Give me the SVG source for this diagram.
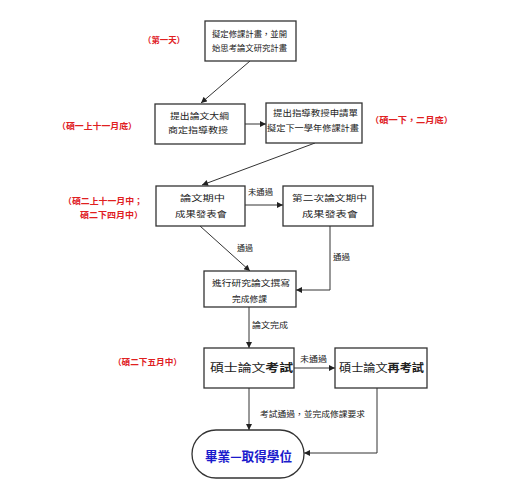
<svg xmlns="http://www.w3.org/2000/svg" width="517" height="500" viewBox="0 0 517 500">
<defs>
<marker id="arr" viewBox="0 0 10 10" refX="10" refY="5" markerWidth="7" markerHeight="6" markerUnits="userSpaceOnUse" orient="auto">
<path d="M0,0 L10,5 L0,10 z" fill="#222"/>
</marker>
<style>
.box{fill:#fff;stroke:#333;stroke-width:1.3}
.t{font-family:"Noto Sans CJK TC","Noto Sans CJK SC",sans-serif;font-size:8.5px;fill:#222}
.big{font-size:11.5px}
.lbl{font-family:"Noto Sans CJK TC","Noto Sans CJK SC",sans-serif;font-size:7.5px;fill:#222}
.red{font-family:"Noto Sans CJK TC","Noto Sans CJK SC",sans-serif;font-size:8.5px;fill:#e0201f;font-weight:bold}
.c{fill:none;stroke:#333;stroke-width:1;marker-end:url(#arr)}
</style>
</defs>
<rect width="517" height="500" fill="#fff"/>

<g id="connectors">
<line class="c" x1="250" y1="61" x2="201" y2="103"/>
<line class="c" x1="245" y1="124" x2="266" y2="124"/>
<line class="c" x1="315" y1="143" x2="202" y2="185"/>
<line class="c" x1="245" y1="205" x2="283" y2="205"/>
<line class="c" x1="200" y1="226" x2="250" y2="271"/>
<polyline class="c" points="330,226 330,290 296,290"/>
<line class="c" x1="249" y1="307" x2="249" y2="348"/>
<line class="c" x1="294" y1="368" x2="335" y2="368"/>
<line class="c" x1="249" y1="388" x2="249" y2="430"/>
<polyline class="c" points="377,388 377,453 304,453"/>
<text class="lbl" x="248" y="195" textLength="25" lengthAdjust="spacingAndGlyphs">未通過</text>
<text class="lbl" x="237" y="251" textLength="16" lengthAdjust="spacingAndGlyphs">通過</text>
<text class="lbl" x="333" y="260" textLength="17" lengthAdjust="spacingAndGlyphs">通過</text>
<text class="lbl" x="252" y="328" textLength="36" lengthAdjust="spacingAndGlyphs">論文完成</text>
<text class="lbl" x="300" y="362" textLength="27" lengthAdjust="spacingAndGlyphs">未通過</text>
<text class="lbl" x="260" y="417" textLength="105" lengthAdjust="spacingAndGlyphs">考試通過，並完成修課要求</text>
</g>

<g id="labels">
<text class="red" x="143" y="43" textLength="42" lengthAdjust="spacingAndGlyphs">（第一天）</text>
<text class="red" x="57" y="129" textLength="80" lengthAdjust="spacingAndGlyphs">（碩一上十一月底）</text>
<text class="red" x="370" y="123" textLength="83" lengthAdjust="spacingAndGlyphs">（碩一下，二月底）</text>
<text class="red" x="63" y="204" textLength="80" lengthAdjust="spacingAndGlyphs">（碩二上十一月中；</text>
<text class="red" x="80" y="218" textLength="63" lengthAdjust="spacingAndGlyphs">碩二下四月中）</text>
<text class="red" x="113" y="365" textLength="69" lengthAdjust="spacingAndGlyphs">（碩二下五月中）</text>
</g>

<g id="n1">
<rect class="box" x="205" y="21" width="91" height="40"/>
<text class="t" x="212" y="37" textLength="75" lengthAdjust="spacingAndGlyphs">擬定修課計畫，並開</text>
<text class="t" x="212" y="51" textLength="75" lengthAdjust="spacingAndGlyphs">始思考論文研究計畫</text>
</g>
<g id="n2">
<rect class="box" x="155" y="104" width="90" height="40"/>
<text class="t" x="170" y="119" textLength="59" lengthAdjust="spacingAndGlyphs">提出論文大綱</text>
<text class="t" x="168" y="133" textLength="60" lengthAdjust="spacingAndGlyphs">商定指導教授</text>
</g>
<g id="n3">
<rect class="box" x="266" y="103" width="96" height="40"/>
<text class="t" x="273" y="116" textLength="85" lengthAdjust="spacingAndGlyphs">提出指導教授申請單</text>
<text class="t" x="267" y="131" textLength="92" lengthAdjust="spacingAndGlyphs">擬定下一學年修課計畫</text>
</g>
<g id="n4">
<rect class="box" x="156" y="186" width="89" height="40"/>
<text class="t" x="180" y="201" textLength="45" lengthAdjust="spacingAndGlyphs">論文期中</text>
<text class="t" x="175" y="217" textLength="52" lengthAdjust="spacingAndGlyphs">成果發表會</text>
</g>
<g id="n5">
<rect class="box" x="283" y="186" width="90" height="40"/>
<text class="t" x="292" y="201" textLength="75" lengthAdjust="spacingAndGlyphs">第二次論文期中</text>
<text class="t" x="302" y="217" textLength="56" lengthAdjust="spacingAndGlyphs">成果發表會</text>
</g>
<g id="n6">
<rect class="box" x="204" y="271" width="92" height="36"/>
<text class="t" x="212" y="286" textLength="78" lengthAdjust="spacingAndGlyphs">進行研究論文撰寫</text>
<text class="t" x="232" y="302" textLength="35" lengthAdjust="spacingAndGlyphs">完成修課</text>
</g>
<g id="n7">
<rect class="box" x="204" y="348" width="90" height="40"/>
<text class="t big" x="210" y="372" textLength="83" lengthAdjust="spacingAndGlyphs">碩士論文<tspan font-weight="bold">考試</tspan></text>
</g>
<g id="n8">
<rect class="box" x="335" y="348" width="92" height="40"/>
<text class="t big" x="339" y="372" textLength="85" lengthAdjust="spacingAndGlyphs">碩士論文<tspan font-weight="bold">再考試</tspan></text>
</g>
<g id="n9">
<rect class="box" x="192" y="430" width="112" height="48" rx="24" ry="24"/>
<text x="205" y="461" textLength="87" lengthAdjust="spacingAndGlyphs" style="font-family:'Noto Sans CJK TC','Noto Sans CJK SC',sans-serif;font-size:13px;font-weight:bold;fill:#1a1acc">畢業—取得學位</text>
</g>
</svg>
